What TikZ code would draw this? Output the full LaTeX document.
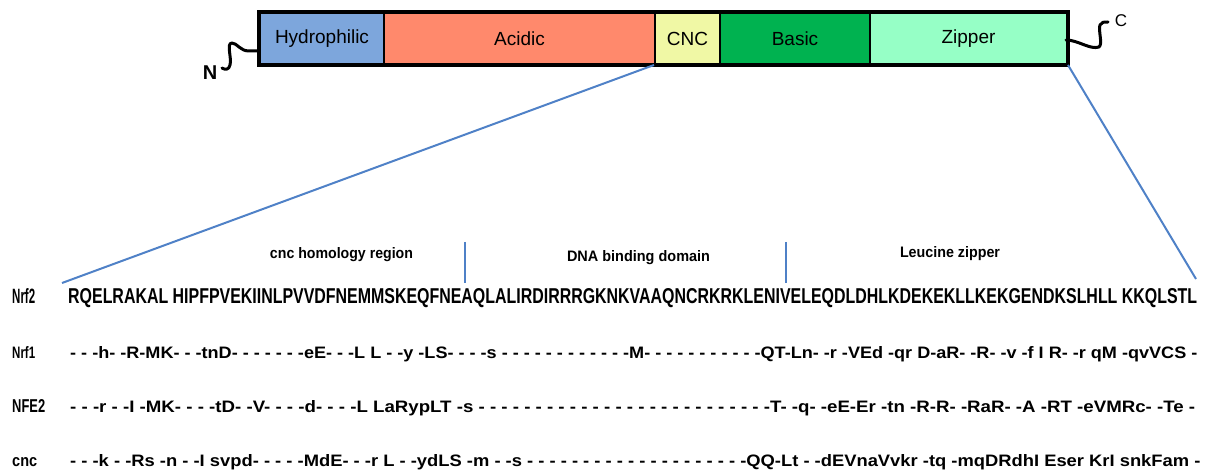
\documentclass[tikz,border=0pt]{standalone}
\usepackage{fontspec}
\setmainfont{Liberation Sans}
\usepackage{graphicx}
\definecolor{hydc}{RGB}{125,166,220}
\definecolor{acic}{RGB}{255,137,108}
\definecolor{cncc}{RGB}{240,248,165}
\definecolor{basc}{RGB}{0,178,80}
\definecolor{zipc}{RGB}{150,255,198}
\definecolor{linec}{RGB}{79,129,199}
\newcommand{\fitbox}[3]{\resizebox{#1pt}{#2pt}{\bfseries #3}}
\begin{document}
\begin{tikzpicture}[x=1pt,y=-1pt,
  dom/.style={draw=black, line width=2pt, minimum height=51pt, inner sep=0pt,
    anchor=north west, font=\fontsize{19}{22}\selectfont},
  seqtxt/.style={inner sep=0pt, anchor=base west},
  hdr/.style={inner sep=0pt, anchor=base},
  bl/.style={draw=linec, line width=2pt},
  sq/.style={line width=3pt, line cap=round, line join=round}]
\useasboundingbox (0,0) rectangle (1206,470);
% domain bar
\node[dom, fill=hydc, minimum width=124pt] (hyd) at (259,12) {Hydrophilic};
\node[dom, fill=acic, minimum width=271pt] (aci) at (383,12) {Acidic};
\node[dom, fill=cncc, minimum width=65pt] (cncd) at (654,12) {CNC};
\node[dom, fill=basc, minimum width=150pt] (bas) at (719,12) {Basic};
\node[dom, fill=zipc, minimum width=197pt] (zip) at (869,12) {Zipper};
\draw[line width=3.5pt] (hyd.north west) rectangle (zip.south east);
% termini
\node[inner sep=0pt, font=\bfseries\fontsize{20}{20}\selectfont] (nl) at (210,73) {N};
\node[inner sep=0pt, font=\fontsize{17}{17}\selectfont] (cl) at (1121,21) {C};
\coordinate (ns) at (259,51);
\coordinate (cs) at (1066,40);
\draw[sq] (ns) -- (249,51) .. controls (240,51) and (237,43) .. (232,43)
  .. controls (226,43) and (232,58) .. (230,65) .. controls (229,70) and (225,70) .. (222,68);
\draw[sq] (cs) .. controls (1078,40) and (1090,50) .. (1099,47)
  .. controls (1103,44) and (1098,30) .. (1100,25) .. controls (1101,22) and (1104,22) .. (1108,22);
% expansion lines
\coordinate (e1) at (62,283);
\coordinate (e2) at (1196,279);
\draw[bl] (cncd.south west) -- (e1);
\draw[bl] (zip.south east) -- (e2);
% separators
\coordinate (v1t) at (465,242); \coordinate (v1b) at (465,283);
\coordinate (v2t) at (786,242); \coordinate (v2b) at (786,283);
\draw[bl] (v1t) -- (v1b);
\draw[bl] (v2t) -- (v2b);
% headers
\node[hdr] (h1) at (341.5,258) {\fitbox{143}{11}{cnc homology region}};
\node[hdr] (h2) at (638.5,261) {\fitbox{143}{11}{DNA binding domain}};
\node[hdr] (h3) at (950,257) {\fitbox{100}{11}{Leucine zipper}};
% row labels
\node[seqtxt] (l1) at (12,303) {\fitbox{23}{15}{Nrf2}};
\node[seqtxt] (l2) at (12,358) {\fitbox{23}{12}{Nrf1}};
\node[seqtxt] (l3) at (12,412) {\fitbox{33}{13}{NFE2}};
\node[seqtxt] (l4) at (12,466) {\fitbox{25}{9}{cnc}};
% sequences
\node[seqtxt] (s1) at (68,303) {\fitbox{1129}{15}{RQELRAKAL HIPFPVEKIINLPVVDFNEMMSKEQFNEAQLALIRDIRRRGKNKVAAQNCRKRKLENIVELEQDLDHLKDEKEKLLKEKGENDKSLHLL KKQLSTL}};
\node[seqtxt] (s2) at (70,358) {\fitbox{1127}{12}{- - -h- -R-MK- - -tnD- - - - - - -eE- - -L L - -y -LS- - - -s - - - - - - - - - - - -M- - - - - - - - - - -QT-Ln- -r -VEd -qr D-aR- -R- -v -f I R- -r qM -qvVCS -}};
\node[seqtxt] (s3) at (70,412) {\fitbox{1125}{12}{- - -r - -I -MK- - - -tD- -V- - - -d- - - -L LaRypLT -s - - - - - - - - - - - - - - - - - - - - - - - - - -T- -q- -eE-Er -tn -R-R- -RaR- -A -RT -eVMRc- -Te -}};
\node[seqtxt] (s4) at (70,466) {\fitbox{1130}{12}{- - -k - -Rs -n - -I svpd- - - - -MdE- - -r L - -ydLS -m - -s - - - - - - - - - - - - - - - - - - - -QQ-Lt - -dEVnaVvkr -tq -mqDRdhI Eser KrI snkFam -}};
\end{tikzpicture}
\end{document}
